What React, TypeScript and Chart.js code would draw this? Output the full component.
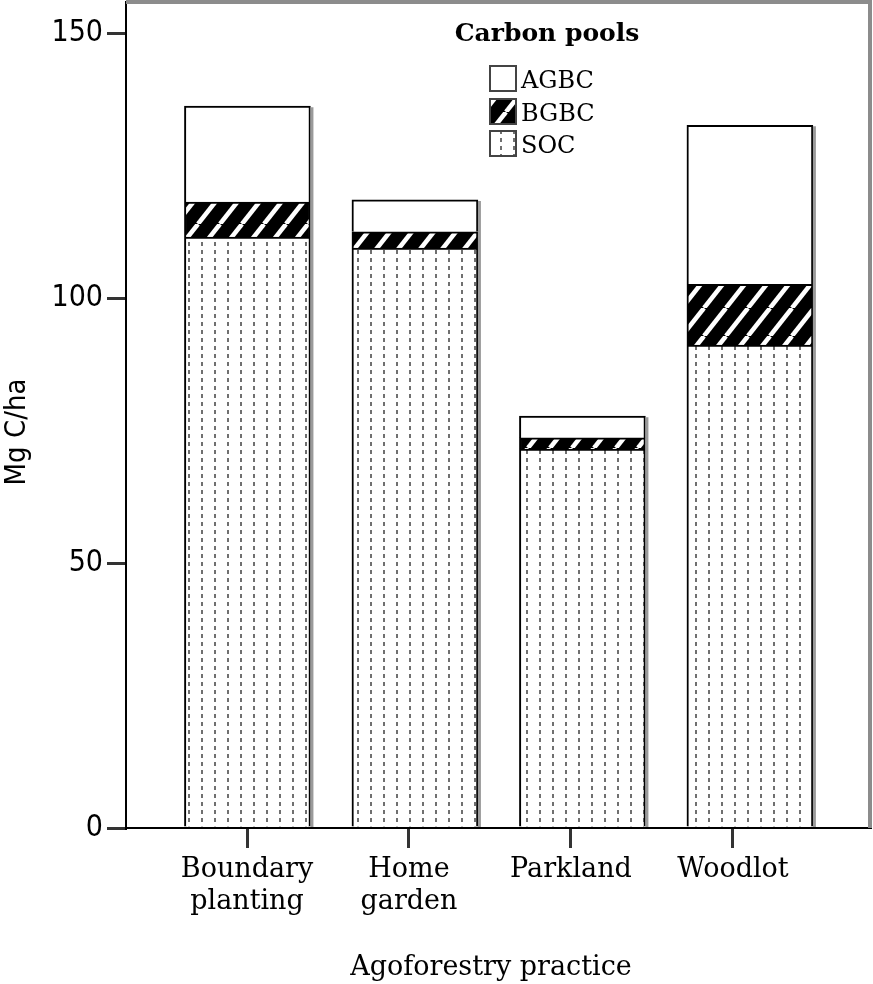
import React, { useEffect, useRef } from 'react';
import { Chart, registerables } from 'chart.js';

Chart.register(...registerables);

// ---- data ----
const categories = ['Boundary planting', 'Home garden', 'Parkland', 'Woodlot'];
const categoryLines = [['Boundary', 'planting'], ['Home', 'garden'], ['Parkland'], ['Woodlot']];
const socValues = [111.5, 109.4, 71.5, 91.1];
const bgbcValues = [6.6, 3.1, 2.1, 11.5];
const agbcValues = [18.1, 6.0, 4.1, 30.0];
const yTicks = [0, 50, 100, 150];
const seriesNames = ['AGBC', 'BGBC', 'SOC'];
const legendTitle = 'Carbon pools';
const xAxisTitle = 'Agoforestry practice';
const yAxisTitle = 'Mg C/ha';

const SANS = "'Liberation Sans Narrow', 'DejaVu Sans Condensed', 'Liberation Sans', sans-serif";
const SERIF = "'DejaVu Serif', 'Liberation Serif', serif";

function makeDotPattern(ctx: CanvasRenderingContext2D) {
  const c = document.createElement('canvas');
  c.width = 13;
  c.height = 8;
  const g = c.getContext('2d')!;
  g.fillStyle = '#ffffff';
  g.fillRect(0, 0, 13, 8);
  g.fillStyle = '#707070';
  g.fillRect(6, 2, 2, 4);
  return ctx.createPattern(c, 'repeat')!;
}

function makeStripePattern(ctx: CanvasRenderingContext2D) {
  const w = 22;
  const h = 28;
  const c = document.createElement('canvas');
  c.width = w;
  c.height = h;
  const g = c.getContext('2d')!;
  g.fillStyle = '#000000';
  g.fillRect(0, 0, w, h);
  g.strokeStyle = '#ffffff';
  g.lineWidth = 4.5;
  for (let k = -1; k <= 1; k++) {
    g.beginPath();
    g.moveTo(k * w, h);
    g.lineTo(k * w + w, 0);
    g.stroke();
  }
  return ctx.createPattern(c, 'repeat')!;
}

export default function App() {
  const canvasRef = useRef<HTMLCanvasElement | null>(null);

  useEffect(() => {
    const canvas = canvasRef.current!;
    const ctx = canvas.getContext('2d')!;
    const dotPattern = makeDotPattern(ctx);
    const stripePattern = makeStripePattern(ctx);

    const toPoints = (arr: number[]) => arr.map((v, i) => ({ x: i, y: v }));

    const barCommon = {
      borderColor: '#000000',
      borderWidth: { top: 2, left: 2, right: 2, bottom: 0 },
      borderSkipped: 'start' as const,
      barThickness: 126,
      stack: 'pools',
      xAxisID: 'x',
      yAxisID: 'y',
    };

    const decorPlugin = {
      id: 'decor',
      afterDatasetsDraw(chart: any) {
        const c = chart.ctx;
        const area = chart.chartArea;
        const topMeta = chart.getDatasetMeta(2);
        c.save();
        c.strokeStyle = '#9a9a9a';
        c.lineWidth = 3;
        topMeta.data.forEach((el: any) => {
          const p = el.getProps(['x', 'y', 'width'], true);
          const x = p.x + p.width / 2 + 1.5;
          c.beginPath();
          c.moveTo(x, p.y + 1);
          c.lineTo(x, area.bottom - 1);
          c.stroke();
        });
        c.restore();
      },
      afterDraw(chart: any) {
        const c = chart.ctx;
        const area = chart.chartArea;
        c.save();
        // frame (top & right)
        c.strokeStyle = '#8c8c8c';
        c.lineWidth = 4;
        c.beginPath();
        c.moveTo(area.left, 2);
        c.lineTo(area.right + 2, 2);
        c.moveTo(area.right, 0);
        c.lineTo(area.right, area.bottom);
        c.stroke();

        // legend
        c.fillStyle = '#000';
        c.font = `bold 25px ${SERIF}`;
        c.textAlign = 'center';
        c.textBaseline = 'alphabetic';
        c.fillText(legendTitle, 547, 41);

        const fills = ['#ffffff', stripePattern, dotPattern];
        const boxTops = [66, 99, 131];
        const baselines = [88, 121, 153];
        c.font = `24px ${SERIF}`;
        c.textAlign = 'left';
        seriesNames.forEach((name, i) => {
          c.fillStyle = fills[i] as any;
          c.fillRect(490, boxTops[i], 26, 25);
          c.strokeStyle = '#444';
          c.lineWidth = 2;
          c.strokeRect(490, boxTops[i], 26, 25);
          c.fillStyle = '#000';
          c.fillText(name, 521, baselines[i]);
        });

        // x axis title
        c.font = `27px ${SERIF}`;
        c.textAlign = 'center';
        c.fillStyle = '#000';
        c.fillText(xAxisTitle, 491, 975);

        // y axis title
        c.translate(25, 432);
        c.rotate(-Math.PI / 2);
        c.font = `29px ${SANS}`;
        c.textAlign = 'center';
        c.textBaseline = 'alphabetic';
        c.fillText(yAxisTitle, 0, 0);
        c.restore();
      },
    };

    const chart = new Chart(canvas, {
      type: 'bar',
      data: {
        datasets: [
          { ...barCommon, label: seriesNames[2], data: toPoints(socValues), backgroundColor: dotPattern },
          { ...barCommon, label: seriesNames[1], data: toPoints(bgbcValues), backgroundColor: stripePattern },
          { ...barCommon, label: seriesNames[0], data: toPoints(agbcValues), backgroundColor: '#ffffff' },
        ] as any,
      },
      options: {
        responsive: false,
        animation: false,
        devicePixelRatio: 1,
        layout: { padding: { left: 0, top: 2, right: 3, bottom: 0 } },
        plugins: {
          legend: { display: false },
          tooltip: { enabled: false },
          title: { display: false },
        },
        scales: {
          x: {
            type: 'linear',
            display: false,
            stacked: true,
            offset: false,
            grid: { offset: false },
            min: -0.725,
            max: 3.717,
          },
          x2: {
            type: 'linear',
            position: 'bottom',
            offset: false,
            min: -0.747,
            max: 3.846,
            afterBuildTicks: (scale: any) => {
              scale.ticks = categories.map((_, i) => ({ value: i }));
            },
            afterFit: (scale: any) => {
              scale.height = 156;
              scale.paddingLeft = 0;
              scale.paddingRight = 0;
            },
            border: { display: true, color: '#000', width: 2 },
            grid: {
              offset: false,
              drawOnChartArea: false,
              drawTicks: true,
              tickLength: 20,
              color: '#333',
              lineWidth: 3,
            },
            ticks: {
              autoSkip: false,
              maxRotation: 0,
              minRotation: 0,
              padding: 6,
              color: '#000',
              font: { family: SERIF, size: 27, lineHeight: 1.19 },
              callback: (v: any) => categoryLines[Math.round(Number(v))] ?? '',
            },
          },
          y: {
            type: 'linear',
            stacked: true,
            min: 0,
            max: 155.85,
            afterBuildTicks: (scale: any) => {
              scale.ticks = yTicks.map((v) => ({ value: v }));
            },
            afterFit: (scale: any) => {
              scale.width = 126;
              scale.paddingTop = 0;
              scale.paddingBottom = 0;
            },
            border: { display: true, color: '#000', width: 2 },
            grid: {
              drawOnChartArea: false,
              drawTicks: true,
              tickLength: 19,
              color: '#333',
              lineWidth: 3,
            },
            ticks: {
              autoSkip: false,
              padding: 4,
              color: '#000',
              font: { family: SANS, size: 30 },
              callback: (v: any) => String(v),
            },
          },
        } as any,
      },
      plugins: [decorPlugin],
    });

    return () => chart.destroy();
  }, []);

  return (
    <div style={{ position: 'absolute', left: 0, top: 0, width: 873, height: 984, background: '#fff' }}>
      <canvas ref={canvasRef} width={873} height={984} style={{ display: 'block', width: 873, height: 984 }} />
    </div>
  );
}
